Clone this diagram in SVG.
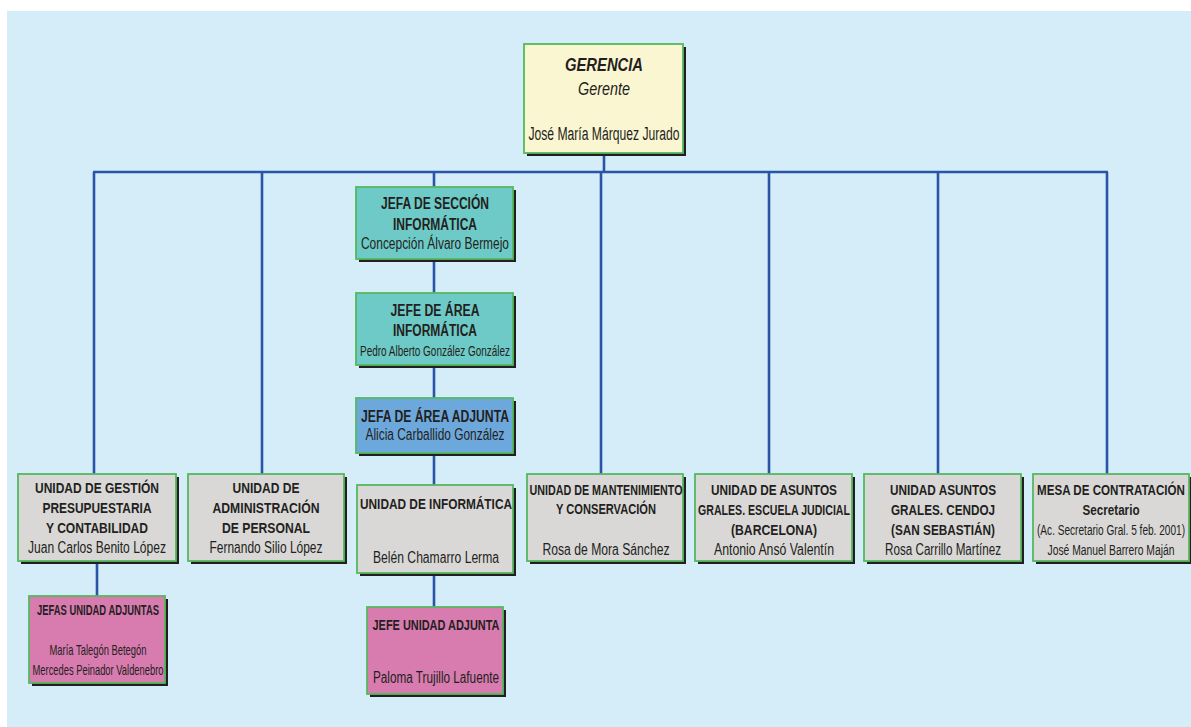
<svg xmlns="http://www.w3.org/2000/svg" width="1191" height="727" viewBox="0 0 1191 727">
  <style>
    .shadow { fill: #231f20; }
    .box { stroke: #55b85f; stroke-width: 1.8; }
    .yellow { fill: #fbf6d2; }
    .teal { fill: #6ecac7; }
    .blue { fill: #6da8dc; }
    .grey { fill: #d9d8d7; }
    .pink { fill: #d87cb0; }
    text { font-family: "Liberation Sans Narrow", "Liberation Sans", Arial, sans-serif; fill: #231f20; text-anchor: middle; }
    .b { font-weight: bold; font-size: 15px; }
    .r { font-size: 16px; }
    .s { font-size: 15px; }
    .conn { stroke: #2a55a6; stroke-width: 2.6; fill: none; stroke-linecap: butt; }
  </style>

  <!-- panel -->
  <rect x="7" y="11" width="1184" height="716" fill="#d5ecf9"/>

  <!-- connectors -->
  <g id="connectors" class="conn">
    <line x1="604" y1="153" x2="604" y2="172"/>
    <line x1="93" y1="172" x2="1108" y2="172"/>
    <line x1="94" y1="172" x2="94" y2="474"/>
    <line x1="262" y1="172" x2="262" y2="474"/>
    <line x1="434" y1="172" x2="434" y2="187"/>
    <line x1="601" y1="172" x2="601" y2="474"/>
    <line x1="769" y1="172" x2="769" y2="474"/>
    <line x1="938" y1="172" x2="938" y2="474"/>
    <line x1="1107" y1="172" x2="1107" y2="474"/>
    <line x1="97" y1="561" x2="97" y2="596"/>
    <line x1="434" y1="259" x2="434" y2="293"/>
    <line x1="434" y1="365" x2="434" y2="398"/>
    <line x1="434" y1="453" x2="434" y2="485"/>
    <line x1="434" y1="573" x2="434" y2="607"/>
  </g>

  <!-- top management -->
  <g id="gerencia">
    <rect class="shadow" x="527" y="47" width="159" height="109"/>
    <rect class="box yellow" x="524" y="44" width="159" height="109"/>
    <text x="604" y="71" style="font-weight:bold;font-style:italic;font-size:18px" textLength="78" lengthAdjust="spacingAndGlyphs">GERENCIA</text>
    <text x="604" y="95" style="font-style:italic;font-size:18px" textLength="52" lengthAdjust="spacingAndGlyphs">Gerente</text>
    <text x="604" y="140" style="font-size:18px" textLength="151" lengthAdjust="spacingAndGlyphs">José María Márquez Jurado</text>
  </g>

  <!-- IT chain -->
  <g id="jefa-seccion-informatica">
    <rect class="shadow" x="359" y="190" width="157" height="72"/>
    <rect class="box teal" x="356" y="187" width="157" height="72"/>
    <text class="b" x="435" y="209" style="font-size:16px" textLength="108" lengthAdjust="spacingAndGlyphs">JEFA DE SECCIÓN</text>
    <text class="b" x="435" y="230" style="font-size:16px" textLength="84" lengthAdjust="spacingAndGlyphs">INFORMÁTICA</text>
    <text class="r" x="435" y="249" textLength="148" lengthAdjust="spacingAndGlyphs">Concepción Álvaro Bermejo</text>
  </g>

  <g id="jefe-area-informatica">
    <rect class="shadow" x="359" y="296" width="157" height="72"/>
    <rect class="box teal" x="356" y="293" width="157" height="72"/>
    <text class="b" x="435" y="316" style="font-size:16px" textLength="89" lengthAdjust="spacingAndGlyphs">JEFE DE ÁREA</text>
    <text class="b" x="435" y="336" style="font-size:16px" textLength="84" lengthAdjust="spacingAndGlyphs">INFORMÁTICA</text>
    <text class="s" x="435" y="356" textLength="150" lengthAdjust="spacingAndGlyphs">Pedro Alberto González González</text>
  </g>

  <g id="jefa-area-adjunta">
    <rect class="shadow" x="359" y="401" width="157" height="55"/>
    <rect class="box blue" x="356" y="398" width="157" height="55"/>
    <text class="b" x="435" y="422" style="font-size:16px" textLength="148" lengthAdjust="spacingAndGlyphs">JEFA DE ÁREA ADJUNTA</text>
    <text class="r" x="435" y="440" textLength="139" lengthAdjust="spacingAndGlyphs">Alicia Carballido González</text>
  </g>

  <!-- units -->
  <g id="unidad-gestion">
    <rect class="shadow" x="21" y="477" width="158" height="87"/>
    <rect class="box grey" x="18" y="474" width="158" height="87"/>
    <text class="b" x="97" y="493" textLength="124" lengthAdjust="spacingAndGlyphs">UNIDAD DE GESTIÓN</text>
    <text class="b" x="97" y="513" textLength="109" lengthAdjust="spacingAndGlyphs">PRESUPUESTARIA</text>
    <text class="b" x="97" y="533" textLength="102" lengthAdjust="spacingAndGlyphs">Y CONTABILIDAD</text>
    <text class="r" x="97" y="553" textLength="138" lengthAdjust="spacingAndGlyphs">Juan Carlos Benito López</text>
  </g>

  <g id="unidad-personal">
    <rect class="shadow" x="191" y="477" width="156" height="87"/>
    <rect class="box grey" x="188" y="474" width="156" height="87"/>
    <text class="b" x="266" y="493" textLength="67" lengthAdjust="spacingAndGlyphs">UNIDAD DE</text>
    <text class="b" x="266" y="513" textLength="107" lengthAdjust="spacingAndGlyphs">ADMINISTRACIÓN</text>
    <text class="b" x="266" y="533" textLength="88" lengthAdjust="spacingAndGlyphs">DE PERSONAL</text>
    <text class="r" x="266" y="553" textLength="113" lengthAdjust="spacingAndGlyphs">Fernando Silio López</text>
  </g>

  <g id="unidad-informatica">
    <rect class="shadow" x="360" y="488" width="156" height="88"/>
    <rect class="box grey" x="357" y="485" width="156" height="88"/>
    <text class="b" x="436" y="509" textLength="152" lengthAdjust="spacingAndGlyphs">UNIDAD DE INFORMÁTICA</text>
    <text class="r" x="436" y="563" textLength="126" lengthAdjust="spacingAndGlyphs">Belén Chamarro Lerma</text>
  </g>

  <g id="unidad-mantenimiento">
    <rect class="shadow" x="530" y="477" width="156" height="87"/>
    <rect class="box grey" x="527" y="474" width="156" height="87"/>
    <text class="b" transform="translate(606 495) scale(0.7 1)" textLength="218.6" lengthAdjust="spacingAndGlyphs">UNIDAD DE MANTENIMIENTO</text>
    <text class="b" x="606" y="514" textLength="100" lengthAdjust="spacingAndGlyphs">Y CONSERVACIÓN</text>
    <text class="r" x="606" y="555" textLength="127" lengthAdjust="spacingAndGlyphs">Rosa de Mora Sánchez</text>
  </g>

  <g id="unidad-escuela-judicial">
    <rect class="shadow" x="698" y="477" width="157" height="87"/>
    <rect class="box grey" x="695" y="474" width="157" height="87"/>
    <text class="b" x="774" y="495" textLength="126" lengthAdjust="spacingAndGlyphs">UNIDAD DE ASUNTOS</text>
    <text class="b" transform="translate(774 515) scale(0.7 1)" textLength="217" lengthAdjust="spacingAndGlyphs">GRALES. ESCUELA JUDICIAL</text>
    <text class="b" x="774" y="535" textLength="86" lengthAdjust="spacingAndGlyphs">(BARCELONA)</text>
    <text class="r" x="774" y="555" textLength="120" lengthAdjust="spacingAndGlyphs">Antonio Ansó Valentín</text>
  </g>

  <g id="unidad-cendoj">
    <rect class="shadow" x="867" y="477" width="157" height="87"/>
    <rect class="box grey" x="864" y="474" width="157" height="87"/>
    <text class="b" x="943" y="495" textLength="106" lengthAdjust="spacingAndGlyphs">UNIDAD ASUNTOS</text>
    <text class="b" x="943" y="515" textLength="104" lengthAdjust="spacingAndGlyphs">GRALES. CENDOJ</text>
    <text class="b" x="943" y="535" textLength="104" lengthAdjust="spacingAndGlyphs">(SAN SEBASTIÁN)</text>
    <text class="r" x="943" y="555" textLength="116" lengthAdjust="spacingAndGlyphs">Rosa Carrillo Martínez</text>
  </g>

  <g id="mesa-contratacion">
    <rect class="shadow" x="1036" y="477" width="157" height="87"/>
    <rect class="box grey" x="1033" y="474" width="156" height="87"/>
    <text class="b" transform="translate(1111 495) scale(0.75 1)" textLength="197.3" lengthAdjust="spacingAndGlyphs">MESA DE CONTRATACIÓN</text>
    <text class="b" x="1111" y="515" textLength="57" lengthAdjust="spacingAndGlyphs">Secretario</text>
    <text class="s" transform="translate(1111 535) scale(0.67 1)" textLength="220.9" lengthAdjust="spacingAndGlyphs">(Ac. Secretario Gral. 5 feb. 2001)</text>
    <text class="s" transform="translate(1111 555) scale(0.69 1)" textLength="184" lengthAdjust="spacingAndGlyphs">José Manuel Barrero Maján</text>
  </g>

  <!-- deputies -->
  <g id="jefas-unidad-adjuntas">
    <rect class="shadow" x="32" y="599" width="136" height="87"/>
    <rect class="box pink" x="29" y="596" width="136" height="87"/>
    <text class="b" x="98" y="615" style="font-size:14px" textLength="122" lengthAdjust="spacingAndGlyphs">JEFAS UNIDAD ADJUNTAS</text>
    <text class="s" x="98" y="655" textLength="97" lengthAdjust="spacingAndGlyphs">María Talegón Betegón</text>
    <text class="s" x="98" y="675" textLength="131" lengthAdjust="spacingAndGlyphs">Mercedes Peinador Valdenebro</text>
  </g>

  <g id="jefe-unidad-adjunta">
    <rect class="shadow" x="370" y="610" width="136" height="87"/>
    <rect class="box pink" x="367" y="607" width="136" height="87"/>
    <text class="b" x="436" y="630" textLength="127" lengthAdjust="spacingAndGlyphs">JEFE UNIDAD ADJUNTA</text>
    <text class="r" x="436" y="683" textLength="126" lengthAdjust="spacingAndGlyphs">Paloma Trujillo Lafuente</text>
  </g>
</svg>
